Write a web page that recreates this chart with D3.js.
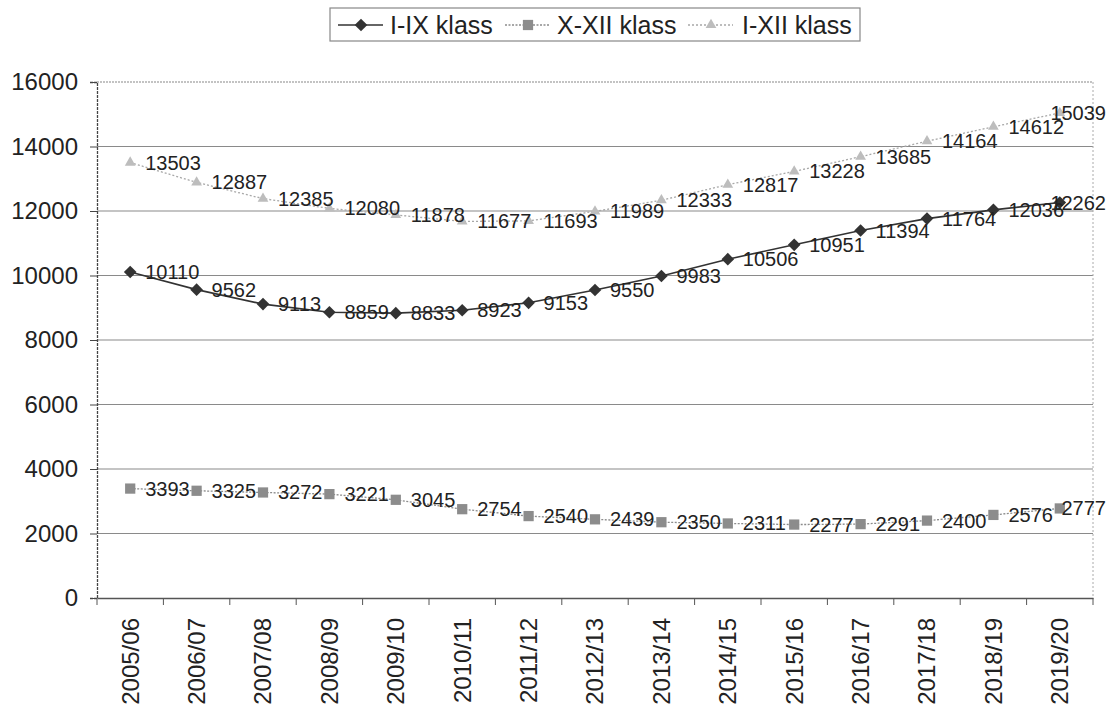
<!DOCTYPE html>
<html><head><meta charset="utf-8">
<script src="https://cdn.jsdelivr.net/npm/d3@7"></script>
<style>
html,body{margin:0;padding:0;background:#fff;}
text{font-family:"Liberation Sans",Arial,sans-serif;fill:#222;}
</style></head>
<body><svg id="c" width="1108" height="712"></svg>
<script>
const categories = ["2005/06","2006/07","2007/08","2008/09","2009/10","2010/11","2011/12","2012/13","2013/14","2014/15","2015/16","2016/17","2017/18","2018/19","2019/20"];
const seriesNames = ["I-IX klass","X-XII klass","I-XII klass"];
const valuesI_IX = [10110,9562,9113,8859,8833,8923,9153,9550,9983,10506,10951,11394,11764,12036,12262];
const valuesX_XII = [3393,3325,3272,3221,3045,2754,2540,2439,2350,2311,2277,2291,2400,2576,2777];
const valuesI_XII = [13503,12887,12385,12080,11878,11677,11693,11989,12333,12817,13228,13685,14164,14612,15039];
const yTicks = [0,2000,4000,6000,8000,10000,12000,14000,16000];

const svg = d3.select("#c");
const L=97, R=1093, T=82, B=598;
const x = d3.scaleBand().domain(categories).range([L,R]);
const y = d3.scaleLinear().domain([0,16000]).range([B,T]);

svg.append("g").selectAll("line").data(yTicks.filter(d=>d>0&&d<16000)).join("line")
  .attr("x1",L).attr("x2",R).attr("y1",d=>y(d)).attr("y2",d=>y(d))
  .attr("stroke","#8a8a8a").attr("stroke-width",1.2);
svg.append("line").attr("x1",L).attr("x2",R).attr("y1",T).attr("y2",T).attr("stroke","#888").attr("stroke-dasharray","2,1").attr("stroke-width",1.2);
svg.append("line").attr("x1",R).attr("x2",R).attr("y1",T).attr("y2",B).attr("stroke","#aaa").attr("stroke-dasharray","2,2").attr("stroke-width",1);

const ya = svg.append("g").attr("transform",`translate(${L},0)`)
  .call(d3.axisLeft(y).tickValues(yTicks).tickSize(7).tickPadding(12).tickFormat(d3.format("d")));
ya.select(".domain").attr("stroke","#444").attr("stroke-width",1.3).attr("stroke-dasharray","3,1");
ya.selectAll(".tick line").attr("stroke","#444");
ya.selectAll("text").attr("font-size",24).attr("fill","#222").style("font-family","Liberation Sans, Arial");

const xa = svg.append("g").attr("transform",`translate(0,${B})`)
  .call(d3.axisBottom(x).tickSize(0).tickFormat(d=>d));
xa.select(".domain").attr("stroke","#555").attr("stroke-width",1.3);
xa.selectAll(".tick text").attr("font-size",24).attr("fill","#222").style("font-family","Liberation Sans, Arial")
  .attr("transform","rotate(-90)").attr("text-anchor","end").attr("x",-20).attr("y",0).attr("dy","0.35em");
svg.append("g").selectAll("line").data(d3.range(categories.length+1)).join("line")
  .attr("x1",i=>L+i*x.bandwidth()).attr("x2",i=>L+i*x.bandwidth()).attr("y1",B).attr("y2",B+7)
  .attr("stroke","#555");

const cx = d=>x(d)+x.bandwidth()/2;
const diamondType = {draw(ctx,size){const r=Math.sqrt(size/2);ctx.moveTo(0,-r);ctx.lineTo(r,0);ctx.lineTo(0,r);ctx.lineTo(-r,0);ctx.closePath();}};
const sym = {triangle:d3.symbol().type(d3.symbolTriangle).size(50),
             square:d3.symbol().type(d3.symbolSquare).size(105),
             diamond:d3.symbol().type(diamondType).size(80)};
const series = [
  {name:seriesNames[0], vals:valuesI_IX, color:"#333333", lc:"#333333", dash:null, w:1.6, marker:"diamond"},
  {name:seriesNames[1], vals:valuesX_XII, color:"#8c8c8c", lc:"#8c8c8c", dash:"2,1.5", w:1.3, marker:"square"},
  {name:seriesNames[2], vals:valuesI_XII, color:"#bdbdbd", lc:"#a8a8a8", dash:"2,2", w:1.3, marker:"triangle"}
];
const line = d3.line().x(d=>cx(d.c)).y(d=>y(d.v));
[2,1,0].forEach(k=>{
  const s=series[k];
  const pts = categories.map((c,i)=>({c,v:s.vals[i]}));
  svg.append("path").datum(pts).attr("d",line).attr("fill","none")
    .attr("stroke",s.lc).attr("stroke-width",s.w).attr("stroke-dasharray",s.dash);
  svg.append("g").selectAll("path").data(pts).join("path")
    .attr("d",sym[s.marker]).attr("transform",d=>`translate(${cx(d.c)},${y(d.v)})`)
    .attr("fill",s.color);
  s.pts=pts;
});
series.forEach(s=>{
  svg.append("g").selectAll("text").data(s.pts).join("text")
    .attr("x",d=>cx(d.c)+15).attr("y",d=>y(d.v)).attr("dy","0.35em")
    .attr("font-size",20).attr("fill","#222").text(d=>d.v)
    .each(function(){const w=this.getComputedTextLength();const xx=+this.getAttribute("x");if(xx+w>1106)this.setAttribute("x",1106-w);});
});

const lg = svg.append("g");
lg.append("rect").attr("x",330).attr("y",8).attr("width",530).attr("height",33).attr("fill","#fff").attr("stroke","#888").attr("stroke-width",1.2);
const legendPos = [{x0:338,tx:390},{x0:505,tx:557},{x0:688,tx:742}];
series.forEach((s,i)=>{
  const it=legendPos[i], yy=25;
  lg.append("line").attr("x1",it.x0).attr("x2",it.x0+45).attr("y1",yy).attr("y2",yy)
    .attr("stroke",s.lc).attr("stroke-width",s.w).attr("stroke-dasharray",s.dash);
  lg.append("path").attr("d",sym[s.marker]).attr("transform",`translate(${it.x0+23},${yy})`).attr("fill",s.color);
  lg.append("text").attr("x",it.tx).attr("y",yy).attr("dy","0.35em").attr("font-size",25).text(s.name);
});
</script></body></html>
